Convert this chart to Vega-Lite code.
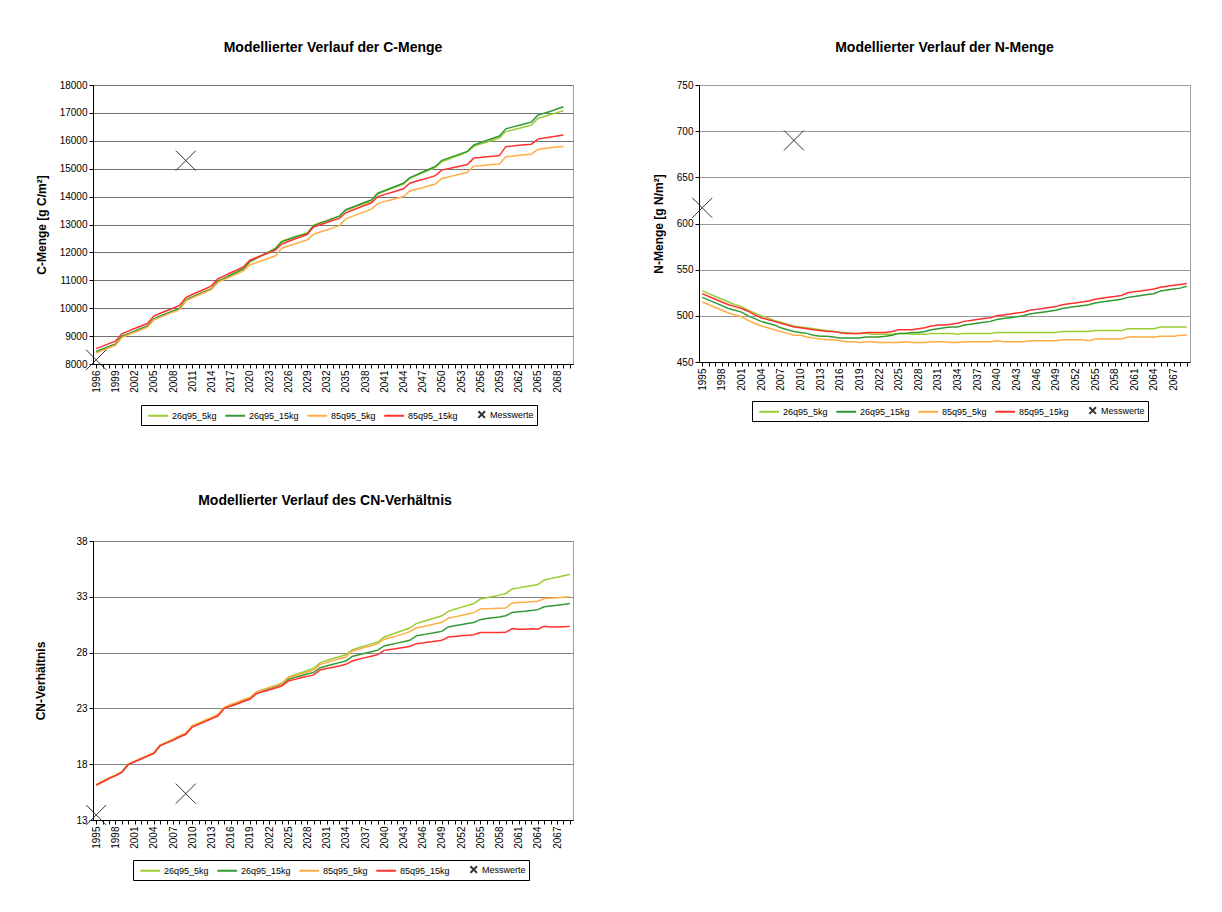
{
  "$schema": "https://vega.github.io/schema/vega-lite/v6.json",
  "background": "white",
  "padding": {"left": 34, "top": 40, "right": 0, "bottom": 0},
  "datasets": {
    "c": [
      {"Jahr":1996,"26q95_5kg":8420,"26q95_15kg":8450,"85q95_5kg":8400,"85q95_15kg":8550},
      {"Jahr":1997,"26q95_5kg":8510,"26q95_15kg":8540,"85q95_5kg":8490,"85q95_15kg":8640},
      {"Jahr":1998,"26q95_5kg":8600,"26q95_15kg":8630,"85q95_5kg":8580,"85q95_15kg":8730},
      {"Jahr":1999,"26q95_5kg":8700,"26q95_15kg":8720,"85q95_5kg":8670,"85q95_15kg":8820},
      {"Jahr":2000,"26q95_5kg":8980,"26q95_15kg":9000,"85q95_5kg":8950,"85q95_15kg":9080},
      {"Jahr":2001,"26q95_5kg":9080,"26q95_15kg":9090,"85q95_5kg":9050,"85q95_15kg":9180},
      {"Jahr":2002,"26q95_5kg":9160,"26q95_15kg":9180,"85q95_5kg":9140,"85q95_15kg":9270},
      {"Jahr":2003,"26q95_5kg":9250,"26q95_15kg":9270,"85q95_5kg":9230,"85q95_15kg":9360},
      {"Jahr":2004,"26q95_5kg":9340,"26q95_15kg":9360,"85q95_5kg":9320,"85q95_15kg":9450},
      {"Jahr":2005,"26q95_5kg":9600,"26q95_15kg":9620,"85q95_5kg":9580,"85q95_15kg":9720},
      {"Jahr":2006,"26q95_5kg":9700,"26q95_15kg":9720,"85q95_5kg":9680,"85q95_15kg":9820},
      {"Jahr":2007,"26q95_5kg":9790,"26q95_15kg":9810,"85q95_5kg":9770,"85q95_15kg":9910},
      {"Jahr":2008,"26q95_5kg":9880,"26q95_15kg":9900,"85q95_5kg":9860,"85q95_15kg":10000},
      {"Jahr":2009,"26q95_5kg":9970,"26q95_15kg":9990,"85q95_5kg":9950,"85q95_15kg":10100},
      {"Jahr":2010,"26q95_5kg":10280,"26q95_15kg":10300,"85q95_5kg":10260,"85q95_15kg":10380},
      {"Jahr":2011,"26q95_5kg":10390,"26q95_15kg":10400,"85q95_5kg":10370,"85q95_15kg":10490},
      {"Jahr":2012,"26q95_5kg":10490,"26q95_15kg":10500,"85q95_5kg":10470,"85q95_15kg":10590},
      {"Jahr":2013,"26q95_5kg":10590,"26q95_15kg":10600,"85q95_5kg":10570,"85q95_15kg":10690},
      {"Jahr":2014,"26q95_5kg":10690,"26q95_15kg":10700,"85q95_5kg":10670,"85q95_15kg":10800},
      {"Jahr":2015,"26q95_5kg":10950,"26q95_15kg":10970,"85q95_5kg":10930,"85q95_15kg":11050},
      {"Jahr":2016,"26q95_5kg":11060,"26q95_15kg":11080,"85q95_5kg":11030,"85q95_15kg":11160},
      {"Jahr":2017,"26q95_5kg":11170,"26q95_15kg":11190,"85q95_5kg":11130,"85q95_15kg":11270},
      {"Jahr":2018,"26q95_5kg":11280,"26q95_15kg":11300,"85q95_5kg":11230,"85q95_15kg":11370},
      {"Jahr":2019,"26q95_5kg":11390,"26q95_15kg":11420,"85q95_5kg":11340,"85q95_15kg":11480},
      {"Jahr":2020,"26q95_5kg":11650,"26q95_15kg":11680,"85q95_5kg":11550,"85q95_15kg":11720},
      {"Jahr":2021,"26q95_5kg":11780,"26q95_15kg":11800,"85q95_5kg":11630,"85q95_15kg":11810},
      {"Jahr":2022,"26q95_5kg":11900,"26q95_15kg":11910,"85q95_5kg":11710,"85q95_15kg":11900},
      {"Jahr":2023,"26q95_5kg":12020,"26q95_15kg":12020,"85q95_5kg":11790,"85q95_15kg":11990},
      {"Jahr":2024,"26q95_5kg":12150,"26q95_15kg":12130,"85q95_5kg":11880,"85q95_15kg":12080},
      {"Jahr":2025,"26q95_5kg":12400,"26q95_15kg":12380,"85q95_5kg":12150,"85q95_15kg":12300},
      {"Jahr":2026,"26q95_5kg":12480,"26q95_15kg":12460,"85q95_5kg":12230,"85q95_15kg":12390},
      {"Jahr":2027,"26q95_5kg":12560,"26q95_15kg":12540,"85q95_5kg":12300,"85q95_15kg":12480},
      {"Jahr":2028,"26q95_5kg":12630,"26q95_15kg":12610,"85q95_5kg":12380,"85q95_15kg":12560},
      {"Jahr":2029,"26q95_5kg":12700,"26q95_15kg":12680,"85q95_5kg":12450,"85q95_15kg":12650},
      {"Jahr":2030,"26q95_5kg":12980,"26q95_15kg":12960,"85q95_5kg":12650,"85q95_15kg":12920},
      {"Jahr":2031,"26q95_5kg":13060,"26q95_15kg":13050,"85q95_5kg":12730,"85q95_15kg":12990},
      {"Jahr":2032,"26q95_5kg":13140,"26q95_15kg":13130,"85q95_5kg":12800,"85q95_15kg":13070},
      {"Jahr":2033,"26q95_5kg":13220,"26q95_15kg":13220,"85q95_5kg":12880,"85q95_15kg":13150},
      {"Jahr":2034,"26q95_5kg":13300,"26q95_15kg":13300,"85q95_5kg":12960,"85q95_15kg":13220},
      {"Jahr":2035,"26q95_5kg":13500,"26q95_15kg":13530,"85q95_5kg":13200,"85q95_15kg":13420},
      {"Jahr":2036,"26q95_5kg":13590,"26q95_15kg":13620,"85q95_5kg":13290,"85q95_15kg":13510},
      {"Jahr":2037,"26q95_5kg":13680,"26q95_15kg":13710,"85q95_5kg":13380,"85q95_15kg":13600},
      {"Jahr":2038,"26q95_5kg":13760,"26q95_15kg":13800,"85q95_5kg":13460,"85q95_15kg":13690},
      {"Jahr":2039,"26q95_5kg":13850,"26q95_15kg":13880,"85q95_5kg":13550,"85q95_15kg":13780},
      {"Jahr":2040,"26q95_5kg":14100,"26q95_15kg":14120,"85q95_5kg":13750,"85q95_15kg":14000},
      {"Jahr":2041,"26q95_5kg":14190,"26q95_15kg":14210,"85q95_5kg":13820,"85q95_15kg":14070},
      {"Jahr":2042,"26q95_5kg":14280,"26q95_15kg":14300,"85q95_5kg":13880,"85q95_15kg":14140},
      {"Jahr":2043,"26q95_5kg":14360,"26q95_15kg":14390,"85q95_5kg":13940,"85q95_15kg":14210},
      {"Jahr":2044,"26q95_5kg":14450,"26q95_15kg":14480,"85q95_5kg":14000,"85q95_15kg":14280},
      {"Jahr":2045,"26q95_5kg":14650,"26q95_15kg":14680,"85q95_5kg":14200,"85q95_15kg":14480},
      {"Jahr":2046,"26q95_5kg":14750,"26q95_15kg":14780,"85q95_5kg":14260,"85q95_15kg":14550},
      {"Jahr":2047,"26q95_5kg":14850,"26q95_15kg":14880,"85q95_5kg":14320,"85q95_15kg":14610},
      {"Jahr":2048,"26q95_5kg":14950,"26q95_15kg":14980,"85q95_5kg":14390,"85q95_15kg":14680},
      {"Jahr":2049,"26q95_5kg":15050,"26q95_15kg":15080,"85q95_5kg":14450,"85q95_15kg":14750},
      {"Jahr":2050,"26q95_5kg":15250,"26q95_15kg":15300,"85q95_5kg":14650,"85q95_15kg":14950},
      {"Jahr":2051,"26q95_5kg":15340,"26q95_15kg":15380,"85q95_5kg":14700,"85q95_15kg":15000},
      {"Jahr":2052,"26q95_5kg":15430,"26q95_15kg":15460,"85q95_5kg":14760,"85q95_15kg":15050},
      {"Jahr":2053,"26q95_5kg":15510,"26q95_15kg":15540,"85q95_5kg":14810,"85q95_15kg":15100},
      {"Jahr":2054,"26q95_5kg":15600,"26q95_15kg":15620,"85q95_5kg":14870,"85q95_15kg":15150},
      {"Jahr":2055,"26q95_5kg":15800,"26q95_15kg":15850,"85q95_5kg":15100,"85q95_15kg":15380},
      {"Jahr":2056,"26q95_5kg":15880,"26q95_15kg":15930,"85q95_5kg":15110,"85q95_15kg":15400},
      {"Jahr":2057,"26q95_5kg":15950,"26q95_15kg":16010,"85q95_5kg":15130,"85q95_15kg":15430},
      {"Jahr":2058,"26q95_5kg":16030,"26q95_15kg":16090,"85q95_5kg":15150,"85q95_15kg":15450},
      {"Jahr":2059,"26q95_5kg":16100,"26q95_15kg":16170,"85q95_5kg":15170,"85q95_15kg":15470},
      {"Jahr":2060,"26q95_5kg":16330,"26q95_15kg":16430,"85q95_5kg":15430,"85q95_15kg":15790},
      {"Jahr":2061,"26q95_5kg":16390,"26q95_15kg":16490,"85q95_5kg":15450,"85q95_15kg":15810},
      {"Jahr":2062,"26q95_5kg":16440,"26q95_15kg":16550,"85q95_5kg":15480,"85q95_15kg":15840},
      {"Jahr":2063,"26q95_5kg":16500,"26q95_15kg":16610,"85q95_5kg":15500,"85q95_15kg":15860},
      {"Jahr":2064,"26q95_5kg":16560,"26q95_15kg":16670,"85q95_5kg":15520,"85q95_15kg":15880},
      {"Jahr":2065,"26q95_5kg":16800,"26q95_15kg":16920,"85q95_5kg":15690,"85q95_15kg":16060},
      {"Jahr":2066,"26q95_5kg":16870,"26q95_15kg":16990,"85q95_5kg":15720,"85q95_15kg":16100},
      {"Jahr":2067,"26q95_5kg":16940,"26q95_15kg":17060,"85q95_5kg":15750,"85q95_15kg":16140},
      {"Jahr":2068,"26q95_5kg":17010,"26q95_15kg":17140,"85q95_5kg":15780,"85q95_15kg":16170},
      {"Jahr":2069,"26q95_5kg":17080,"26q95_15kg":17220,"85q95_5kg":15800,"85q95_15kg":16210}
    ],
    "n": [
      {"Jahr":1995,"26q95_5kg":527,"26q95_15kg":520,"85q95_5kg":515,"85q95_15kg":524},
      {"Jahr":1996,"26q95_5kg":524,"26q95_15kg":517,"85q95_5kg":512,"85q95_15kg":521},
      {"Jahr":1997,"26q95_5kg":521,"26q95_15kg":514,"85q95_5kg":509,"85q95_15kg":518},
      {"Jahr":1998,"26q95_5kg":518,"26q95_15kg":511,"85q95_5kg":506,"85q95_15kg":515},
      {"Jahr":1999,"26q95_5kg":515,"26q95_15kg":508,"85q95_5kg":503,"85q95_15kg":512},
      {"Jahr":2000,"26q95_5kg":512,"26q95_15kg":506,"85q95_5kg":501,"85q95_15kg":510},
      {"Jahr":2001,"26q95_5kg":510,"26q95_15kg":504,"85q95_5kg":499,"85q95_15kg":508},
      {"Jahr":2002,"26q95_5kg":506,"26q95_15kg":500,"85q95_5kg":495,"85q95_15kg":505},
      {"Jahr":2003,"26q95_5kg":503,"26q95_15kg":497,"85q95_5kg":492,"85q95_15kg":501},
      {"Jahr":2004,"26q95_5kg":500,"26q95_15kg":494,"85q95_5kg":489,"85q95_15kg":498},
      {"Jahr":2005,"26q95_5kg":498,"26q95_15kg":492,"85q95_5kg":487,"85q95_15kg":496},
      {"Jahr":2006,"26q95_5kg":495,"26q95_15kg":490,"85q95_5kg":485,"85q95_15kg":494},
      {"Jahr":2007,"26q95_5kg":493,"26q95_15kg":487,"85q95_5kg":483,"85q95_15kg":492},
      {"Jahr":2008,"26q95_5kg":491,"26q95_15kg":485,"85q95_5kg":481,"85q95_15kg":490},
      {"Jahr":2009,"26q95_5kg":489,"26q95_15kg":483,"85q95_5kg":479,"85q95_15kg":488},
      {"Jahr":2010,"26q95_5kg":488,"26q95_15kg":482,"85q95_5kg":479,"85q95_15kg":487},
      {"Jahr":2011,"26q95_5kg":487,"26q95_15kg":481,"85q95_5kg":477,"85q95_15kg":486},
      {"Jahr":2012,"26q95_5kg":486,"26q95_15kg":479,"85q95_5kg":476,"85q95_15kg":485},
      {"Jahr":2013,"26q95_5kg":485,"26q95_15kg":478,"85q95_5kg":475,"85q95_15kg":484},
      {"Jahr":2014,"26q95_5kg":484,"26q95_15kg":478,"85q95_5kg":474,"85q95_15kg":483},
      {"Jahr":2015,"26q95_5kg":483,"26q95_15kg":477,"85q95_5kg":474,"85q95_15kg":483},
      {"Jahr":2016,"26q95_5kg":482,"26q95_15kg":476,"85q95_5kg":473,"85q95_15kg":482},
      {"Jahr":2017,"26q95_5kg":482,"26q95_15kg":476,"85q95_5kg":472,"85q95_15kg":481},
      {"Jahr":2018,"26q95_5kg":481,"26q95_15kg":476,"85q95_5kg":472,"85q95_15kg":481},
      {"Jahr":2019,"26q95_5kg":481,"26q95_15kg":476,"85q95_5kg":471,"85q95_15kg":481},
      {"Jahr":2020,"26q95_5kg":481,"26q95_15kg":477,"85q95_5kg":472,"85q95_15kg":482},
      {"Jahr":2021,"26q95_5kg":480,"26q95_15kg":477,"85q95_5kg":472,"85q95_15kg":482},
      {"Jahr":2022,"26q95_5kg":480,"26q95_15kg":477,"85q95_5kg":471,"85q95_15kg":482},
      {"Jahr":2023,"26q95_5kg":480,"26q95_15kg":478,"85q95_5kg":471,"85q95_15kg":482},
      {"Jahr":2024,"26q95_5kg":480,"26q95_15kg":479,"85q95_5kg":471,"85q95_15kg":483},
      {"Jahr":2025,"26q95_5kg":481,"26q95_15kg":481,"85q95_5kg":471,"85q95_15kg":485},
      {"Jahr":2026,"26q95_5kg":481,"26q95_15kg":481,"85q95_5kg":472,"85q95_15kg":485},
      {"Jahr":2027,"26q95_5kg":480,"26q95_15kg":482,"85q95_5kg":471,"85q95_15kg":485},
      {"Jahr":2028,"26q95_5kg":480,"26q95_15kg":482,"85q95_5kg":471,"85q95_15kg":486},
      {"Jahr":2029,"26q95_5kg":480,"26q95_15kg":483,"85q95_5kg":471,"85q95_15kg":487},
      {"Jahr":2030,"26q95_5kg":481,"26q95_15kg":485,"85q95_5kg":472,"85q95_15kg":489},
      {"Jahr":2031,"26q95_5kg":481,"26q95_15kg":486,"85q95_5kg":472,"85q95_15kg":490},
      {"Jahr":2032,"26q95_5kg":481,"26q95_15kg":487,"85q95_5kg":472,"85q95_15kg":490},
      {"Jahr":2033,"26q95_5kg":481,"26q95_15kg":488,"85q95_5kg":471,"85q95_15kg":491},
      {"Jahr":2034,"26q95_5kg":480,"26q95_15kg":488,"85q95_5kg":471,"85q95_15kg":492},
      {"Jahr":2035,"26q95_5kg":481,"26q95_15kg":490,"85q95_5kg":472,"85q95_15kg":494},
      {"Jahr":2036,"26q95_5kg":481,"26q95_15kg":491,"85q95_5kg":472,"85q95_15kg":495},
      {"Jahr":2037,"26q95_5kg":481,"26q95_15kg":492,"85q95_5kg":472,"85q95_15kg":496},
      {"Jahr":2038,"26q95_5kg":481,"26q95_15kg":493,"85q95_5kg":472,"85q95_15kg":497},
      {"Jahr":2039,"26q95_5kg":481,"26q95_15kg":494,"85q95_5kg":472,"85q95_15kg":498},
      {"Jahr":2040,"26q95_5kg":482,"26q95_15kg":496,"85q95_5kg":473,"85q95_15kg":500},
      {"Jahr":2041,"26q95_5kg":482,"26q95_15kg":497,"85q95_5kg":472,"85q95_15kg":501},
      {"Jahr":2042,"26q95_5kg":482,"26q95_15kg":498,"85q95_5kg":472,"85q95_15kg":502},
      {"Jahr":2043,"26q95_5kg":482,"26q95_15kg":499,"85q95_5kg":472,"85q95_15kg":503},
      {"Jahr":2044,"26q95_5kg":482,"26q95_15kg":500,"85q95_5kg":472,"85q95_15kg":504},
      {"Jahr":2045,"26q95_5kg":482,"26q95_15kg":502,"85q95_5kg":473,"85q95_15kg":506},
      {"Jahr":2046,"26q95_5kg":482,"26q95_15kg":503,"85q95_5kg":473,"85q95_15kg":507},
      {"Jahr":2047,"26q95_5kg":482,"26q95_15kg":504,"85q95_5kg":473,"85q95_15kg":508},
      {"Jahr":2048,"26q95_5kg":482,"26q95_15kg":505,"85q95_5kg":473,"85q95_15kg":509},
      {"Jahr":2049,"26q95_5kg":482,"26q95_15kg":506,"85q95_5kg":473,"85q95_15kg":510},
      {"Jahr":2050,"26q95_5kg":483,"26q95_15kg":508,"85q95_5kg":474,"85q95_15kg":512},
      {"Jahr":2051,"26q95_5kg":483,"26q95_15kg":509,"85q95_5kg":474,"85q95_15kg":513},
      {"Jahr":2052,"26q95_5kg":483,"26q95_15kg":510,"85q95_5kg":474,"85q95_15kg":514},
      {"Jahr":2053,"26q95_5kg":483,"26q95_15kg":511,"85q95_5kg":474,"85q95_15kg":515},
      {"Jahr":2054,"26q95_5kg":483,"26q95_15kg":512,"85q95_5kg":473,"85q95_15kg":516},
      {"Jahr":2055,"26q95_5kg":484,"26q95_15kg":514,"85q95_5kg":475,"85q95_15kg":518},
      {"Jahr":2056,"26q95_5kg":484,"26q95_15kg":515,"85q95_5kg":475,"85q95_15kg":519},
      {"Jahr":2057,"26q95_5kg":484,"26q95_15kg":516,"85q95_5kg":475,"85q95_15kg":520},
      {"Jahr":2058,"26q95_5kg":484,"26q95_15kg":517,"85q95_5kg":475,"85q95_15kg":521},
      {"Jahr":2059,"26q95_5kg":484,"26q95_15kg":518,"85q95_5kg":475,"85q95_15kg":522},
      {"Jahr":2060,"26q95_5kg":486,"26q95_15kg":520,"85q95_5kg":477,"85q95_15kg":525},
      {"Jahr":2061,"26q95_5kg":486,"26q95_15kg":521,"85q95_5kg":477,"85q95_15kg":526},
      {"Jahr":2062,"26q95_5kg":486,"26q95_15kg":522,"85q95_5kg":477,"85q95_15kg":527},
      {"Jahr":2063,"26q95_5kg":486,"26q95_15kg":523,"85q95_5kg":477,"85q95_15kg":528},
      {"Jahr":2064,"26q95_5kg":486,"26q95_15kg":524,"85q95_5kg":477,"85q95_15kg":529},
      {"Jahr":2065,"26q95_5kg":488,"26q95_15kg":527,"85q95_5kg":478,"85q95_15kg":531},
      {"Jahr":2066,"26q95_5kg":488,"26q95_15kg":528,"85q95_5kg":478,"85q95_15kg":532},
      {"Jahr":2067,"26q95_5kg":488,"26q95_15kg":529,"85q95_5kg":478,"85q95_15kg":533},
      {"Jahr":2068,"26q95_5kg":488,"26q95_15kg":530,"85q95_5kg":479,"85q95_15kg":534},
      {"Jahr":2069,"26q95_5kg":488,"26q95_15kg":532,"85q95_5kg":479,"85q95_15kg":535}
    ],
    "r": [
      {"Jahr":1995,"26q95_5kg":16.15,"26q95_15kg":16.13,"85q95_5kg":16.18,"85q95_15kg":16.12},
      {"Jahr":1996,"26q95_5kg":16.45,"26q95_15kg":16.43,"85q95_5kg":16.48,"85q95_15kg":16.42},
      {"Jahr":1997,"26q95_5kg":16.75,"26q95_15kg":16.73,"85q95_5kg":16.78,"85q95_15kg":16.72},
      {"Jahr":1998,"26q95_5kg":17.0,"26q95_15kg":16.98,"85q95_5kg":17.03,"85q95_15kg":16.97},
      {"Jahr":1999,"26q95_5kg":17.3,"26q95_15kg":17.28,"85q95_5kg":17.33,"85q95_15kg":17.27},
      {"Jahr":2000,"26q95_5kg":18.0,"26q95_15kg":17.98,"85q95_5kg":18.03,"85q95_15kg":17.97},
      {"Jahr":2001,"26q95_5kg":18.25,"26q95_15kg":18.23,"85q95_5kg":18.28,"85q95_15kg":18.22},
      {"Jahr":2002,"26q95_5kg":18.5,"26q95_15kg":18.48,"85q95_5kg":18.53,"85q95_15kg":18.47},
      {"Jahr":2003,"26q95_5kg":18.75,"26q95_15kg":18.73,"85q95_5kg":18.78,"85q95_15kg":18.72},
      {"Jahr":2004,"26q95_5kg":19.0,"26q95_15kg":18.98,"85q95_5kg":19.03,"85q95_15kg":18.97},
      {"Jahr":2005,"26q95_5kg":19.7,"26q95_15kg":19.68,"85q95_5kg":19.73,"85q95_15kg":19.66},
      {"Jahr":2006,"26q95_5kg":19.95,"26q95_15kg":19.93,"85q95_5kg":19.98,"85q95_15kg":19.91},
      {"Jahr":2007,"26q95_5kg":20.2,"26q95_15kg":20.18,"85q95_5kg":20.24,"85q95_15kg":20.15},
      {"Jahr":2008,"26q95_5kg":20.5,"26q95_15kg":20.47,"85q95_5kg":20.54,"85q95_15kg":20.44},
      {"Jahr":2009,"26q95_5kg":20.75,"26q95_15kg":20.72,"85q95_5kg":20.8,"85q95_15kg":20.68},
      {"Jahr":2010,"26q95_5kg":21.4,"26q95_15kg":21.37,"85q95_5kg":21.45,"85q95_15kg":21.33},
      {"Jahr":2011,"26q95_5kg":21.65,"26q95_15kg":21.62,"85q95_5kg":21.7,"85q95_15kg":21.57},
      {"Jahr":2012,"26q95_5kg":21.9,"26q95_15kg":21.87,"85q95_5kg":21.95,"85q95_15kg":21.82},
      {"Jahr":2013,"26q95_5kg":22.15,"26q95_15kg":22.12,"85q95_5kg":22.2,"85q95_15kg":22.06},
      {"Jahr":2014,"26q95_5kg":22.4,"26q95_15kg":22.37,"85q95_5kg":22.45,"85q95_15kg":22.3},
      {"Jahr":2015,"26q95_5kg":23.05,"26q95_15kg":23.02,"85q95_5kg":23.1,"85q95_15kg":22.98},
      {"Jahr":2016,"26q95_5kg":23.3,"26q95_15kg":23.27,"85q95_5kg":23.35,"85q95_15kg":23.2},
      {"Jahr":2017,"26q95_5kg":23.5,"26q95_15kg":23.47,"85q95_5kg":23.55,"85q95_15kg":23.4},
      {"Jahr":2018,"26q95_5kg":23.75,"26q95_15kg":23.7,"85q95_5kg":23.78,"85q95_15kg":23.62},
      {"Jahr":2019,"26q95_5kg":23.95,"26q95_15kg":23.9,"85q95_5kg":23.98,"85q95_15kg":23.82},
      {"Jahr":2020,"26q95_5kg":24.45,"26q95_15kg":24.4,"85q95_5kg":24.45,"85q95_15kg":24.3},
      {"Jahr":2021,"26q95_5kg":24.65,"26q95_15kg":24.6,"85q95_5kg":24.65,"85q95_15kg":24.5},
      {"Jahr":2022,"26q95_5kg":24.85,"26q95_15kg":24.78,"85q95_5kg":24.85,"85q95_15kg":24.65},
      {"Jahr":2023,"26q95_5kg":25.05,"26q95_15kg":24.97,"85q95_5kg":25.03,"85q95_15kg":24.82},
      {"Jahr":2024,"26q95_5kg":25.25,"26q95_15kg":25.15,"85q95_5kg":25.22,"85q95_15kg":25.0},
      {"Jahr":2025,"26q95_5kg":25.8,"26q95_15kg":25.62,"85q95_5kg":25.75,"85q95_15kg":25.45},
      {"Jahr":2026,"26q95_5kg":26.0,"26q95_15kg":25.78,"85q95_5kg":25.93,"85q95_15kg":25.6},
      {"Jahr":2027,"26q95_5kg":26.2,"26q95_15kg":25.93,"85q95_5kg":26.1,"85q95_15kg":25.75},
      {"Jahr":2028,"26q95_5kg":26.4,"26q95_15kg":26.08,"85q95_5kg":26.27,"85q95_15kg":25.87},
      {"Jahr":2029,"26q95_5kg":26.6,"26q95_15kg":26.23,"85q95_5kg":26.45,"85q95_15kg":26.0},
      {"Jahr":2030,"26q95_5kg":27.1,"26q95_15kg":26.65,"85q95_5kg":26.95,"85q95_15kg":26.45},
      {"Jahr":2031,"26q95_5kg":27.3,"26q95_15kg":26.8,"85q95_5kg":27.12,"85q95_15kg":26.57},
      {"Jahr":2032,"26q95_5kg":27.47,"26q95_15kg":26.95,"85q95_5kg":27.28,"85q95_15kg":26.68},
      {"Jahr":2033,"26q95_5kg":27.63,"26q95_15kg":27.1,"85q95_5kg":27.45,"85q95_15kg":26.8},
      {"Jahr":2034,"26q95_5kg":27.8,"26q95_15kg":27.25,"85q95_5kg":27.6,"85q95_15kg":26.95},
      {"Jahr":2035,"26q95_5kg":28.25,"26q95_15kg":27.65,"85q95_5kg":28.12,"85q95_15kg":27.25},
      {"Jahr":2036,"26q95_5kg":28.43,"26q95_15kg":27.8,"85q95_5kg":28.3,"85q95_15kg":27.4},
      {"Jahr":2037,"26q95_5kg":28.6,"26q95_15kg":27.95,"85q95_5kg":28.47,"85q95_15kg":27.55},
      {"Jahr":2038,"26q95_5kg":28.78,"26q95_15kg":28.08,"85q95_5kg":28.62,"85q95_15kg":27.68},
      {"Jahr":2039,"26q95_5kg":28.95,"26q95_15kg":28.22,"85q95_5kg":28.8,"85q95_15kg":27.82},
      {"Jahr":2040,"26q95_5kg":29.4,"26q95_15kg":28.6,"85q95_5kg":29.2,"85q95_15kg":28.2},
      {"Jahr":2041,"26q95_5kg":29.6,"26q95_15kg":28.72,"85q95_5kg":29.35,"85q95_15kg":28.28},
      {"Jahr":2042,"26q95_5kg":29.8,"26q95_15kg":28.85,"85q95_5kg":29.5,"85q95_15kg":28.36},
      {"Jahr":2043,"26q95_5kg":30.0,"26q95_15kg":28.98,"85q95_5kg":29.68,"85q95_15kg":28.45},
      {"Jahr":2044,"26q95_5kg":30.2,"26q95_15kg":29.1,"85q95_5kg":29.88,"85q95_15kg":28.55},
      {"Jahr":2045,"26q95_5kg":30.6,"26q95_15kg":29.5,"85q95_5kg":30.2,"85q95_15kg":28.8},
      {"Jahr":2046,"26q95_5kg":30.78,"26q95_15kg":29.6,"85q95_5kg":30.32,"85q95_15kg":28.86},
      {"Jahr":2047,"26q95_5kg":30.95,"26q95_15kg":29.7,"85q95_5kg":30.45,"85q95_15kg":28.94},
      {"Jahr":2048,"26q95_5kg":31.12,"26q95_15kg":29.8,"85q95_5kg":30.58,"85q95_15kg":29.02},
      {"Jahr":2049,"26q95_5kg":31.3,"26q95_15kg":29.9,"85q95_5kg":30.7,"85q95_15kg":29.1},
      {"Jahr":2050,"26q95_5kg":31.7,"26q95_15kg":30.3,"85q95_5kg":31.08,"85q95_15kg":29.4},
      {"Jahr":2051,"26q95_5kg":31.88,"26q95_15kg":30.4,"85q95_5kg":31.2,"85q95_15kg":29.45},
      {"Jahr":2052,"26q95_5kg":32.05,"26q95_15kg":30.5,"85q95_5kg":31.32,"85q95_15kg":29.5},
      {"Jahr":2053,"26q95_5kg":32.22,"26q95_15kg":30.6,"85q95_5kg":31.45,"85q95_15kg":29.55},
      {"Jahr":2054,"26q95_5kg":32.4,"26q95_15kg":30.7,"85q95_5kg":31.58,"85q95_15kg":29.6},
      {"Jahr":2055,"26q95_5kg":32.8,"26q95_15kg":30.95,"85q95_5kg":31.9,"85q95_15kg":29.8},
      {"Jahr":2056,"26q95_5kg":32.92,"26q95_15kg":31.05,"85q95_5kg":31.92,"85q95_15kg":29.8},
      {"Jahr":2057,"26q95_5kg":33.03,"26q95_15kg":31.12,"85q95_5kg":31.95,"85q95_15kg":29.8},
      {"Jahr":2058,"26q95_5kg":33.15,"26q95_15kg":31.2,"85q95_5kg":31.97,"85q95_15kg":29.8},
      {"Jahr":2059,"26q95_5kg":33.3,"26q95_15kg":31.3,"85q95_5kg":32.0,"85q95_15kg":29.82},
      {"Jahr":2060,"26q95_5kg":33.7,"26q95_15kg":31.6,"85q95_5kg":32.45,"85q95_15kg":30.15},
      {"Jahr":2061,"26q95_5kg":33.8,"26q95_15kg":31.65,"85q95_5kg":32.48,"85q95_15kg":30.1},
      {"Jahr":2062,"26q95_5kg":33.9,"26q95_15kg":31.7,"85q95_5kg":32.52,"85q95_15kg":30.1},
      {"Jahr":2063,"26q95_5kg":34.0,"26q95_15kg":31.77,"85q95_5kg":32.56,"85q95_15kg":30.13},
      {"Jahr":2064,"26q95_5kg":34.1,"26q95_15kg":31.85,"85q95_5kg":32.6,"85q95_15kg":30.1},
      {"Jahr":2065,"26q95_5kg":34.5,"26q95_15kg":32.1,"85q95_5kg":32.85,"85q95_15kg":30.35},
      {"Jahr":2066,"26q95_5kg":34.63,"26q95_15kg":32.18,"85q95_5kg":32.88,"85q95_15kg":30.3},
      {"Jahr":2067,"26q95_5kg":34.76,"26q95_15kg":32.25,"85q95_5kg":32.92,"85q95_15kg":30.3},
      {"Jahr":2068,"26q95_5kg":34.88,"26q95_15kg":32.32,"85q95_5kg":32.96,"85q95_15kg":30.32},
      {"Jahr":2069,"26q95_5kg":35.0,"26q95_15kg":32.4,"85q95_5kg":33.0,"85q95_15kg":30.35}
    ],
    "mc": [
      {"Jahr":1996,"Szenario":"Messwerte","Wert":8150},
      {"Jahr":2010,"Szenario":"Messwerte","Wert":15290}
    ],
    "mn": [
      {"Jahr":1995,"Szenario":"Messwerte","Wert":617},
      {"Jahr":2009,"Szenario":"Messwerte","Wert":690}
    ],
    "mr": [
      {"Jahr":1995,"Szenario":"Messwerte","Wert":13.45},
      {"Jahr":2009,"Szenario":"Messwerte","Wert":15.36}
    ]
  },
  "concat": [
    {
      "spacing": 75,
      "resolve": {"scale": {"color": "independent", "shape": "independent"}, "legend": {"color": "independent", "shape": "independent"}},
      "hconcat": [
        {
          "width": 480,
          "height": 279,
          "title": {"text": "Modellierter Verlauf der C-Menge"},
          "encoding": {
            "x": {"field": "Jahr", "type": "quantitative", "scale": {"domain": [1995.5, 2070.5], "nice": false, "zero": false},
              "axis": {"title": null, "format": "d", "values": [1996,1997,1998,1999,2000,2001,2002,2003,2004,2005,2006,2007,2008,2009,2010,2011,2012,2013,2014,2015,2016,2017,2018,2019,2020,2021,2022,2023,2024,2025,2026,2027,2028,2029,2030,2031,2032,2033,2034,2035,2036,2037,2038,2039,2040,2041,2042,2043,2044,2045,2046,2047,2048,2049,2050,2051,2052,2053,2054,2055,2056,2057,2058,2059,2060,2061,2062,2063,2064,2065,2066,2067,2068,2069,2070],
                "labelExpr": "(datum.value - 1996) % 3 === 0 ? datum.label : ''"}},
            "y": {"field": "Wert", "type": "quantitative", "scale": {"domain": [8000, 18000], "nice": false, "zero": false},
              "axis": {"title": "C-Menge [g C/m²]", "format": "d", "values": [8000,9000,10000,11000,12000,13000,14000,15000,16000,17000,18000], "gridColor": "#707070"}},
            "color": {"field": "Szenario", "type": "nominal",
              "scale": {"domain": ["26q95_5kg","26q95_15kg","85q95_5kg","85q95_15kg","Messwerte"], "range": ["#9acd32","#339933","#ffad45","#ff3030","#333333"]},
              "legend": {"title": null, "orient": "none", "legendX": 48, "legendY": 320}}
          },
          "layer": [
            {
              "data": {"name": "c"},
              "transform": [{"fold": ["26q95_5kg","26q95_15kg","85q95_5kg","85q95_15kg"], "as": ["Szenario","Wert"]}],
              "mark": {"type": "line", "strokeWidth": 1.5}
            },
            {
              "data": {"name": "mc"},
              "mark": {"type": "point", "filled": false, "size": 2500, "strokeWidth": 1, "opacity": 1, "shape": "M-0.4,-0.4L0.4,0.4M-0.4,0.4L0.4,-0.4"}
            },
            {
              "data": {"name": "mc"},
              "transform": [{"filter": "false"}],
              "mark": {"type": "point", "filled": false, "opacity": 1},
              "encoding": {
                "shape": {"field": "Szenario", "type": "nominal",
                  "scale": {"domain": ["26q95_5kg","26q95_15kg","85q95_5kg","85q95_15kg","Messwerte"], "range": ["M-0.4,0L3.2,0","M-0.4,0L3.2,0","M-0.4,0L3.2,0","M-0.4,0L3.2,0","M1.8,-0.6L3.0,0.6M1.8,0.6L3.0,-0.6"]},
                  "legend": {"title": null, "orient": "none", "legendX": 48, "legendY": 320}}
              }
            }
          ]
        },
        {
          "width": 491,
          "height": 277,
          "title": {"text": "Modellierter Verlauf der N-Menge"},
          "encoding": {
            "x": {"field": "Jahr", "type": "quantitative", "scale": {"domain": [1994.5, 2069.5], "nice": false, "zero": false},
              "axis": {"title": null, "format": "d", "values": [1995,1996,1997,1998,1999,2000,2001,2002,2003,2004,2005,2006,2007,2008,2009,2010,2011,2012,2013,2014,2015,2016,2017,2018,2019,2020,2021,2022,2023,2024,2025,2026,2027,2028,2029,2030,2031,2032,2033,2034,2035,2036,2037,2038,2039,2040,2041,2042,2043,2044,2045,2046,2047,2048,2049,2050,2051,2052,2053,2054,2055,2056,2057,2058,2059,2060,2061,2062,2063,2064,2065,2066,2067,2068,2069],
                "labelExpr": "(datum.value - 1995) % 3 === 0 ? datum.label : ''"}},
            "y": {"field": "Wert", "type": "quantitative", "scale": {"domain": [450, 750], "nice": false, "zero": false},
              "axis": {"title": "N-Menge [g N/m²]", "format": "d", "values": [450,500,550,600,650,700,750], "gridColor": "#9a9a9a"}},
            "color": {"field": "Szenario", "type": "nominal",
              "scale": {"domain": ["26q95_5kg","26q95_15kg","85q95_5kg","85q95_15kg","Messwerte"], "range": ["#9acd32","#339933","#ffad45","#ff3030","#333333"]},
              "legend": {"title": null, "orient": "none", "legendX": 53, "legendY": 316}}
          },
          "layer": [
            {
              "data": {"name": "n"},
              "transform": [{"fold": ["26q95_5kg","26q95_15kg","85q95_5kg","85q95_15kg"], "as": ["Szenario","Wert"]}],
              "mark": {"type": "line", "strokeWidth": 1.5}
            },
            {
              "data": {"name": "mn"},
              "mark": {"type": "point", "filled": false, "size": 2500, "strokeWidth": 1, "opacity": 1, "shape": "M-0.4,-0.4L0.4,0.4M-0.4,0.4L0.4,-0.4"}
            },
            {
              "data": {"name": "mn"},
              "transform": [{"filter": "false"}],
              "mark": {"type": "point", "filled": false, "opacity": 1},
              "encoding": {
                "shape": {"field": "Szenario", "type": "nominal",
                  "scale": {"domain": ["26q95_5kg","26q95_15kg","85q95_5kg","85q95_15kg","Messwerte"], "range": ["M-0.4,0L3.2,0","M-0.4,0L3.2,0","M-0.4,0L3.2,0","M-0.4,0L3.2,0","M1.8,-0.6L3.0,0.6M1.8,0.6L3.0,-0.6"]},
                  "legend": {"title": null, "orient": "none", "legendX": 53, "legendY": 316}}
              }
            }
          ]
        }
      ]
    },
    {
      "resolve": {"scale": {"color": "independent", "shape": "independent"}, "legend": {"color": "independent", "shape": "independent"}},
      "hconcat": [
        {
          "width": 480,
          "height": 279,
          "title": {"text": "Modellierter Verlauf des CN-Verhältnis", "offset": 28, "dx": -8},
          "encoding": {
            "x": {"field": "Jahr", "type": "quantitative", "scale": {"domain": [1994.5, 2069.5], "nice": false, "zero": false},
              "axis": {"title": null, "format": "d", "values": [1995,1996,1997,1998,1999,2000,2001,2002,2003,2004,2005,2006,2007,2008,2009,2010,2011,2012,2013,2014,2015,2016,2017,2018,2019,2020,2021,2022,2023,2024,2025,2026,2027,2028,2029,2030,2031,2032,2033,2034,2035,2036,2037,2038,2039,2040,2041,2042,2043,2044,2045,2046,2047,2048,2049,2050,2051,2052,2053,2054,2055,2056,2057,2058,2059,2060,2061,2062,2063,2064,2065,2066,2067,2068,2069],
                "labelExpr": "(datum.value - 1995) % 3 === 0 ? datum.label : ''"}},
            "y": {"field": "Wert", "type": "quantitative", "scale": {"domain": [13, 38], "nice": false, "zero": false},
              "axis": {"title": "CN-Verhältnis", "format": "d", "values": [13,18,23,28,33,38], "gridColor": "#858585", "titlePadding": 28}},
            "color": {"field": "Szenario", "type": "nominal",
              "scale": {"domain": ["26q95_5kg","26q95_15kg","85q95_5kg","85q95_15kg","Messwerte"], "range": ["#9acd32","#339933","#ffad45","#ff3030","#333333"]},
              "legend": {"title": null, "orient": "none", "legendX": 40, "legendY": 319}}
          },
          "layer": [
            {
              "data": {"name": "r"},
              "transform": [{"fold": ["26q95_5kg","26q95_15kg","85q95_5kg","85q95_15kg"], "as": ["Szenario","Wert"]}],
              "mark": {"type": "line", "strokeWidth": 1.5}
            },
            {
              "data": {"name": "mr"},
              "mark": {"type": "point", "filled": false, "size": 2500, "strokeWidth": 1, "opacity": 1, "shape": "M-0.4,-0.4L0.4,0.4M-0.4,0.4L0.4,-0.4"}
            },
            {
              "data": {"name": "mr"},
              "transform": [{"filter": "false"}],
              "mark": {"type": "point", "filled": false, "opacity": 1},
              "encoding": {
                "shape": {"field": "Szenario", "type": "nominal",
                  "scale": {"domain": ["26q95_5kg","26q95_15kg","85q95_5kg","85q95_15kg","Messwerte"], "range": ["M-0.4,0L3.2,0","M-0.4,0L3.2,0","M-0.4,0L3.2,0","M-0.4,0L3.2,0","M1.8,-0.6L3.0,0.6M1.8,0.6L3.0,-0.6"]},
                  "legend": {"title": null, "orient": "none", "legendX": 40, "legendY": 319}}
              }
            }
          ]
        }
      ]
    }
  ],
  "columns": 1,
  "align": "none",
  "spacing": 67,
  "resolve": {"scale": {"color": "independent", "shape": "independent"}, "legend": {"color": "independent", "shape": "independent"}},
  "config": {
    "font": "Liberation Sans",
    "view": {"stroke": "#a0a0a0", "strokeWidth": 1},
    "title": {"font": "Liberation Sans", "fontSize": 14, "fontWeight": "bold", "color": "#000000", "frame": "group", "anchor": "middle", "offset": 25},
    "axis": {"labelFont": "Liberation Sans", "labelFontSize": 10, "labelColor": "#000000", "domainColor": "#000000", "tickColor": "#000000", "tickSize": 4, "labelPadding": 2, "titleFont": "Liberation Sans", "titleFontSize": 12, "titleFontWeight": "bold", "titleColor": "#000000", "gridWidth": 1},
    "axisX": {"grid": false, "labelAngle": 270, "labelOverlap": false, "labelFlush": false},
    "axisY": {"grid": true, "titlePadding": 11, "labelFlush": false, "labelOverlap": false},
    "legend": {"direction": "horizontal", "columns": 5, "labelFont": "Liberation Sans", "labelFontSize": 9, "labelColor": "#000000", "symbolSize": 121, "symbolStrokeWidth": 2, "strokeColor": "#000000", "fillColor": "#ffffff", "padding": 3, "columnPadding": 4, "labelOffset": 15}
  }
}
